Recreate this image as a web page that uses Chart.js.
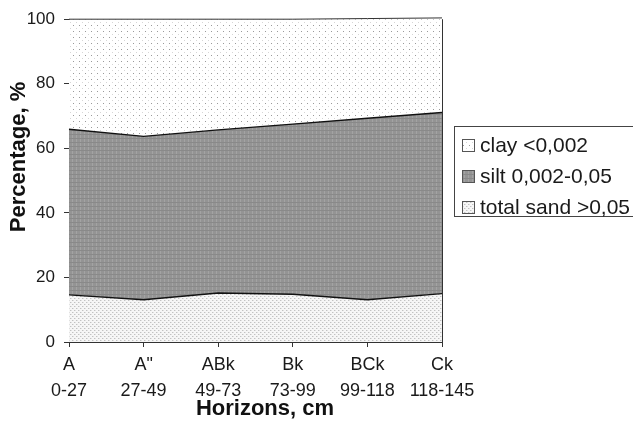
<!DOCTYPE html>
<html>
<head>
<meta charset="utf-8">
<script src="https://cdn.jsdelivr.net/npm/chart.js@4/dist/chart.umd.min.js"></script>
<style>
html,body{margin:0;padding:0;background:#fff;}
#wrap{position:relative;width:633px;height:421px;}
</style>
</head>
<body>
<div id="wrap"><canvas id="c" width="633" height="421"></canvas></div>
<script>
// ---- data ----
const horizons = ['A', 'A"', 'ABk', 'Bk', 'BCk', 'Ck'];
const depths = ['0-27', '27-49', '49-73', '73-99', '99-118', '118-145'];
const sand = [14.6, 13.1, 15.2, 14.8, 13.1, 15.0];
const silt = [51.3, 50.6, 50.5, 52.7, 56.2, 56.1];
const clay = [34.1, 36.3, 34.3, 32.5, 30.9, 29.3];
const seriesNames = ['total sand >0,05', 'silt 0,002-0,05', 'clay <0,002'];
const yTicks = [0, 20, 40, 60, 80, 100];
const xTitle = 'Horizons, cm';
const yTitle = 'Percentage, %';

const labels = horizons.map((h, i) => [h, depths[i]]);
const FONT = '"Liberation Sans", Arial, sans-serif';

function makePattern(size, draw) {
  const c = document.createElement('canvas');
  c.width = size; c.height = size;
  const g = c.getContext('2d');
  draw(g, size);
  return g.createPattern(c, 'repeat');
}
const clayPat = makePattern(6, (g, s) => {
  g.fillStyle = '#ffffff'; g.fillRect(0, 0, s, s);
  g.fillStyle = '#9a9a9a'; g.fillRect(1, 1, 1, 1);
  g.fillStyle = '#d6d6d6'; g.fillRect(4, 4, 1, 1);
});
const siltPat = makePattern(4, (g, s) => {
  g.fillStyle = '#949494'; g.fillRect(0, 0, s, s);
  g.fillStyle = '#a3a3a3'; g.fillRect(0, 0, 1, s);
  g.fillStyle = '#898989'; g.fillRect(0, 2, s, 1);
});
const sandPat = makePattern(4, (g, s) => {
  g.fillStyle = '#f6f6f6'; g.fillRect(0, 0, s, s);
  g.fillStyle = '#c2c2c2'; g.fillRect(0, 0, 1, 1); g.fillRect(2, 2, 1, 1);
  g.fillStyle = '#e0e0e0'; g.fillRect(1, 0, 1, 1); g.fillRect(3, 2, 1, 1);
});
const pats = [sandPat, siltPat, clayPat];

const legendPlugin = {
  id: 'customLegend',
  afterDraw(chart) {
    const ctx = chart.ctx;
    ctx.save();
    ctx.strokeStyle = '#444';
    ctx.lineWidth = 1;
    ctx.strokeRect(454.5, 126.5, 200, 90);
    const order = [2, 1, 0];
    const rows = [145, 176, 207];
    ctx.font = '21px ' + FONT;
    ctx.textBaseline = 'middle';
    ctx.textAlign = 'left';
    order.forEach((di, k) => {
      const ds = chart.data.datasets[di];
      const y = rows[k];
      ctx.fillStyle = pats[di];
      ctx.fillRect(462, y - 6, 13, 13);
      ctx.strokeStyle = '#555';
      ctx.strokeRect(462.5, y - 5.5, 12, 12);
      ctx.fillStyle = '#1a1a1a';
      ctx.fillText(ds.label, 480, y + 1);
    });
    ctx.restore();
  }
};

const titlePlugin = {
  id: 'axisTitles',
  afterDraw(chart) {
    const ctx = chart.ctx;
    ctx.save();
    ctx.fillStyle = '#111';
    ctx.font = 'bold 22px ' + FONT;
    ctx.textAlign = 'center';
    ctx.textBaseline = 'middle';
    ctx.fillText(xTitle, 265, 409);
    ctx.translate(19, 157);
    ctx.rotate(-Math.PI / 2);
    ctx.fillText(yTitle, 0, 0);
    ctx.restore();
  }
};

const values = [sand, silt, clay];
new Chart(document.getElementById('c'), {
  type: 'line',
  data: {
    labels: labels,
    datasets: values.map((v, i) => ({
      label: seriesNames[i],
      data: v,
      fill: i === 0 ? 'origin' : '-1',
      backgroundColor: pats[i],
      borderColor: i === 2 ? '#333' : '#111',
      borderWidth: i === 2 ? 1 : 1.4,
      pointRadius: 0,
      tension: 0,
      clip: false
    }))
  },
  options: {
    responsive: false,
    animation: false,
    layout: { padding: { left: 0, right: 191, top: 16, bottom: 0 } },
    plugins: { legend: { display: false }, tooltip: { enabled: false } },
    scales: {
      x: {
        offset: false,
        grid: {
          drawOnChartArea: true,
          color: (c) => (c.index === horizons.length - 1 ? '#333' : 'rgba(0,0,0,0)'),
          tickColor: '#333',
          tickLength: 5,
          lineWidth: 1
        },
        border: { color: '#333', width: 1 },
        ticks: {
          color: '#1a1a1a',
          font: { family: FONT, size: 18, lineHeight: 1.45 },
          padding: 5,
          maxRotation: 0,
          autoSkip: false
        },
        afterFit: (s) => { s.height = 79; }
      },
      y: {
        stacked: true,
        min: 0, max: 100,
        afterBuildTicks: (s) => { s.ticks = yTicks.map(v => ({ value: v })); },
        grid: { drawOnChartArea: false, tickColor: '#333', tickLength: 5 },
        border: { color: '#333', width: 1 },
        ticks: {
          color: '#1a1a1a',
          font: { family: FONT, size: 17 },
          padding: 9
        },
        afterFit: (s) => { s.width = 69; }
      }
    }
  },
  plugins: [titlePlugin, legendPlugin]
});
</script>
</body>
</html>
